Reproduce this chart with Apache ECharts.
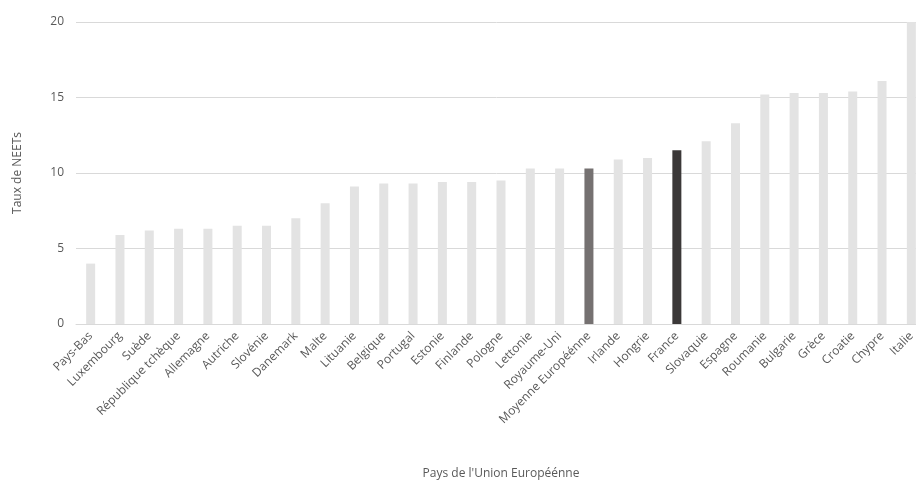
<!DOCTYPE html>
<html>
<head>
<meta charset="utf-8">
<script src="https://cdn.jsdelivr.net/npm/echarts@6/dist/echarts.min.js"></script>
<style>html,body{margin:0;padding:0;background:#fff;}#c{width:916px;height:480px;}</style>
</head>
<body>
<div id="c"></div>
<script>
const categories = ["Pays-Bas","Luxembourg","Suède","République tchèque","Allemagne","Autriche","Slovénie","Danemark","Malte","Lituanie","Belgique","Portugal","Estonie","Finlande","Pologne","Lettonie","Royaume-Uni","Moyenne Européénne","Irlande","Hongrie","France","Slovaquie","Espagne","Roumanie","Bulgarie","Grèce","Croatie","Chypre","Italie"];
const values = [4.0,5.9,6.2,6.3,6.3,6.5,6.5,7.0,8.0,9.1,9.3,9.3,9.4,9.4,9.5,10.3,10.3,10.3,10.9,11.0,11.5,12.1,13.3,15.2,15.3,15.3,15.4,16.1,20.0];
const yTicks = [0,5,10,15,20];
const highlight = {"Moyenne Européénne":"#757171","France":"#3b3838"};
const baseColor = "#e3e3e3";
const font = "Open Sans";
const chart = echarts.init(document.getElementById('c'), null, {renderer:'canvas'});
chart.setOption({
  animation:false,
  grid:{left:76,right:-10,top:22,bottom:156,containLabel:false,outerBoundsMode:'none'},
  xAxis:{
    type:'category', data:categories,
    axisLine:{lineStyle:{color:'#d9d9d9',width:1}},
    axisTick:{show:false},
    axisLabel:{rotate:45,interval:0,color:'#595959',fontFamily:font,fontSize:12,margin:10},
    name:"Pays de l'Union Européénne", nameLocation:'middle', nameGap:150,
    nameTextStyle:{color:'#595959',fontFamily:font,fontSize:12,verticalAlign:'middle'}
  },
  yAxis:{
    type:'value', min:yTicks[0], max:yTicks[yTicks.length-1], interval:5,
    axisLine:{show:false}, axisTick:{show:false},
    splitLine:{lineStyle:{color:'#d9d9d9',width:1}},
    axisLabel:{color:'#595959',fontFamily:font,fontSize:12,margin:12},
    name:'Taux de NEETs', nameLocation:'middle', nameGap:52, nameRotate:90,
    nameTextStyle:{color:'#595959',fontFamily:font,fontSize:12}
  },
  series:[{
    type:'bar', barWidth:9,
    data:values.map((v,i)=>({value:v,itemStyle:{color:highlight[categories[i]]||baseColor}}))
  }]
});
</script>
</body>
</html>
